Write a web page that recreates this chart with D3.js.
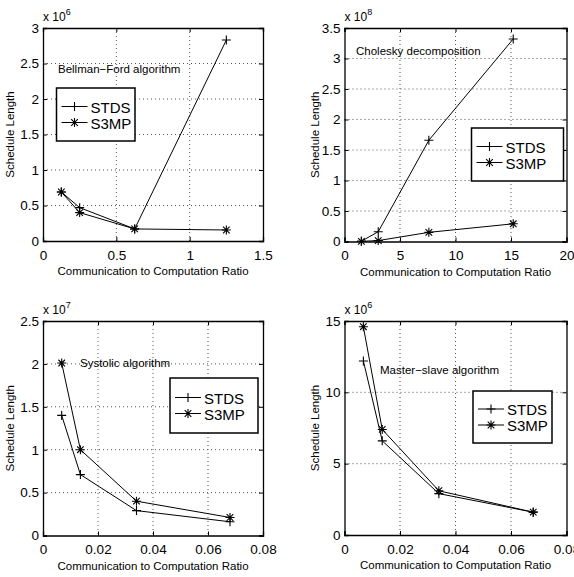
<!DOCTYPE html>
<html>
<head>
<meta charset="utf-8">
<script src="https://cdn.jsdelivr.net/npm/d3@7"></script>
<style>
  body { margin: 0; background: #fff; }
  text { font-family: "Liberation Sans", Arial, sans-serif; fill: #000; }
</style>
</head>
<body>
<div id="myVis"></div>
<script>
// values (y in units of the axis multiplier)
const bfRatio = [0.125, 0.25, 0.625, 1.25];
const bfSTDS = [0.69, 0.47, 0.17, 2.83];
const bfS3MP = [0.69, 0.40, 0.17, 0.155];

const chRatio = [1.52, 3.04, 7.6, 15.2];
const chSTDS = [0.005, 0.16, 1.66, 3.32];
const chS3MP = [0.003, 0.015, 0.15, 0.29];

const syRatio = [0.0068, 0.0136, 0.034, 0.068];
const sySTDS = [1.40, 0.71, 0.29, 0.16];
const syS3MP = [2.01, 1.00, 0.40, 0.21];

const msRatio = [0.0068, 0.0136, 0.034, 0.068];
const msSTDS = [12.2, 6.6, 2.9, 1.6];
const msS3MP = [14.6, 7.4, 3.1, 1.6];

const seriesNames = ["STDS", "S3MP"];

const bfXTicks = [0, 0.5, 1, 1.5], bfYTicks = [0, 0.5, 1, 1.5, 2, 2.5, 3];
const chXTicks = [0, 5, 10, 15, 20], chYTicks = [0, 0.5, 1, 1.5, 2, 2.5, 3, 3.5];
const syXTicks = [0, 0.02, 0.04, 0.06, 0.08], syYTicks = [0, 0.5, 1, 1.5, 2, 2.5];
const msXTicks = [0, 0.02, 0.04, 0.06, 0.08], msYTicks = [0, 5, 10, 15];

const panels = [
  {x: bfRatio, s: [bfSTDS, bfS3MP], xt: bfXTicks, yt: bfYTicks, exp: "6",
   title: "Bellman\u2212Ford algorithm", left: 43, top: 28, w: 220, h: 213,
   tx: 58, ty: 73, leg: {x: 56.5, y: 88, w: 78.5, h: 53}},
  {x: chRatio, s: [chSTDS, chS3MP], xt: chXTicks, yt: chYTicks, exp: "8",
   title: "Cholesky decomposition", left: 344.5, top: 28, w: 222, h: 213.5,
   tx: 356, ty: 55, leg: {x: 471.5, y: 128, w: 92, h: 53}},
  {x: syRatio, s: [sySTDS, syS3MP], xt: syXTicks, yt: syYTicks, exp: "7",
   title: "Systolic algorithm", left: 43, top: 321, w: 220, h: 214.5,
   tx: 80, ty: 367, leg: {x: 170, y: 378, w: 88, h: 55}},
  {x: msRatio, s: [msSTDS, msS3MP], xt: msXTicks, yt: msYTicks, exp: "6",
   title: "Master\u2212slave algorithm", left: 344.5, top: 321, w: 222, h: 214,
   tx: 380, ty: 374, leg: {x: 473, y: 391, w: 79, h: 52}}
];

const svg = d3.select("#myVis").append("svg")
  .attr("width", 574).attr("height", 577);

// plus and asterisk markers
function marker(g, kind, cx, cy) {
  const r = 4.5, d = 3.3;
  let p = `M${cx - r},${cy}H${cx + r}M${cx},${cy - r}V${cy + r}`;
  if (kind === 1) p += `M${cx - d},${cy - d}L${cx + d},${cy + d}M${cx - d},${cy + d}L${cx + d},${cy - d}`;
  g.append("path").attr("d", p).attr("stroke", "#000").attr("stroke-width", 1.1).attr("fill", "none");
}

panels.forEach(pn => {
  const g = svg.append("g").attr("transform", `translate(${pn.left},${pn.top})`);
  const xScale = d3.scaleLinear().domain(d3.extent(pn.xt)).range([0, pn.w]);
  const yScale = d3.scaleLinear().domain(d3.extent(pn.yt)).range([pn.h, 0]);

  // dotted grid
  g.selectAll(".gx").data(pn.xt.slice(1, -1)).enter().append("line")
    .attr("x1", d => xScale(d)).attr("x2", d => xScale(d))
    .attr("y1", 0).attr("y2", pn.h)
    .attr("stroke", "#555").attr("stroke-dasharray", "1,3");
  g.selectAll(".gy").data(pn.yt.slice(1, -1)).enter().append("line")
    .attr("y1", d => yScale(d)).attr("y2", d => yScale(d))
    .attr("x1", 0).attr("x2", pn.w)
    .attr("stroke", "#555").attr("stroke-dasharray", "1,3");

  // axes (inward ticks) on all four sides
  const xa = d3.axisBottom(xScale).tickValues(pn.xt).tickSize(-4).tickPadding(9).tickFormat(d3.format(""));
  const ya = d3.axisLeft(yScale).tickValues(pn.yt).tickSize(-4).tickPadding(4).tickFormat(d3.format(""));
  const gx = g.append("g").attr("transform", `translate(0,${pn.h})`).call(xa);
  const gy = g.append("g").call(ya);
  g.append("g").call(d3.axisTop(xScale).tickValues(pn.xt).tickSize(-4).tickFormat(""));
  g.append("g").attr("transform", `translate(${pn.w},0)`)
    .call(d3.axisRight(yScale).tickValues(pn.yt).tickSize(-4).tickFormat(""));
  g.selectAll(".domain").attr("stroke", "#000").attr("stroke-width", 1.3);
  g.selectAll(".tick line").attr("stroke", "#000");
  [gx, gy].forEach(a => a.selectAll("text")
    .style("font-family", '"Liberation Sans", Arial, sans-serif').style("font-size", "13.5px").attr("fill", "#000"));
  gx.selectAll("text").attr("dy", "0.71em");

  // multiplier
  const m = g.append("text").attr("x", 0).attr("y", -7).style("font-size", "12px");
  m.append("tspan").text("x 10");
  m.append("tspan").attr("dy", -6).style("font-size", "9px").text(pn.exp);

  // axis labels
  g.append("text").attr("x", pn.w / 2).attr("y", pn.h + 34).attr("text-anchor", "middle")
    .style("font-size", "11.5px").text("Communication to Computation Ratio");
  g.append("text").attr("transform", `translate(${pn.left > 100 ? -26 : -29},${pn.h / 2}) rotate(-90)`)
    .attr("text-anchor", "middle").style("font-size", "11.5px").text("Schedule Length");

  // title annotation
  svg.append("text").attr("x", pn.tx).attr("y", pn.ty).style("font-size", "11.5px").text(pn.title);

  // series
  const line = d3.line().x(d => xScale(d[0])).y(d => yScale(d[1]));
  pn.s.forEach((vals, k) => {
    const pts = pn.x.map((xv, i) => [xv, vals[i]]);
    g.append("path").datum(pts).attr("d", line)
      .attr("fill", "none").attr("stroke", "#000").attr("stroke-width", 1);
    pts.forEach(p => marker(g, k, xScale(p[0]), yScale(p[1])));
  });

  // legend
  const L = pn.leg;
  const lg = svg.append("g").attr("transform", `translate(${L.x},${L.y})`);
  lg.append("rect").attr("width", L.w).attr("height", L.h)
    .attr("fill", "#fff").attr("stroke", "#000").attr("stroke-width", 1.5);
  seriesNames.forEach((nm, k) => {
    const yy = L.h / 2 - 8 + k * 16;
    lg.append("line").attr("x1", 5).attr("x2", 31).attr("y1", yy).attr("y2", yy)
      .attr("stroke", "#000").attr("stroke-width", 1);
    marker(lg, k, 18, yy);
    lg.append("text").attr("x", 34).attr("y", yy + 6).style("font-size", "15px").text(nm);
  });
});
</script>
</body>
</html>
